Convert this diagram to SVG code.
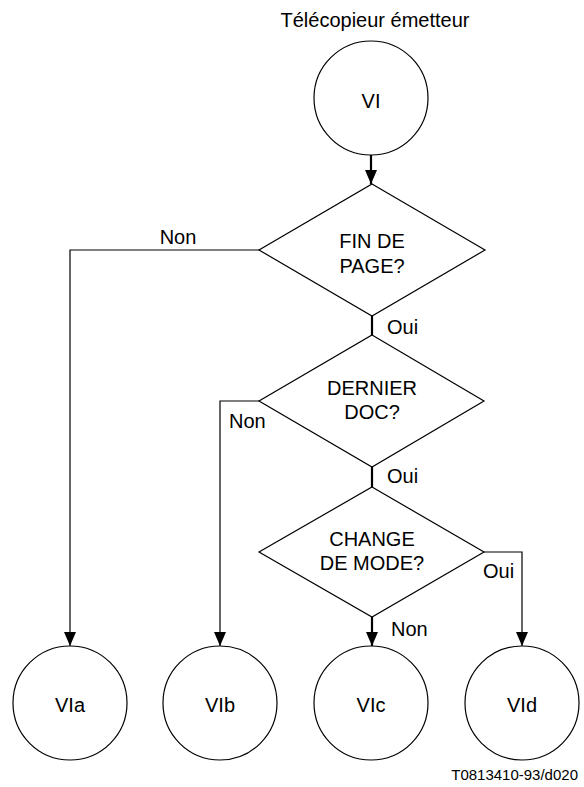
<svg xmlns="http://www.w3.org/2000/svg" width="584" height="787" viewBox="0 0 584 787">
<style>
text{font-family:"Liberation Sans",Arial,sans-serif;font-size:20px;fill:#000}
.c{text-anchor:middle}
.shape{fill:#fff;stroke:#000;stroke-width:1.2}
.ln{fill:none;stroke:#000;stroke-width:1.2}
.thk{fill:none;stroke:#000;stroke-width:2.2}
</style>
<defs>
<marker id="ah" markerUnits="userSpaceOnUse" markerWidth="14" markerHeight="12" refX="14" refY="6" orient="auto" viewBox="0 0 14 12">
<path d="M0,0 L14,6 L0,12 Z" fill="#000"/>
</marker>
</defs>
<text class="c" x="375" y="27">Télécopieur émetteur</text>
<g id="connectors">
<line class="thk" x1="371" y1="155" x2="371" y2="184" marker-end="url(#ah)"/>
<polyline class="ln" points="259,250 70,250 70,646" marker-end="url(#ah)"/>
<line class="thk" x1="372" y1="316" x2="372" y2="335"/>
<polyline class="ln" points="259,401 220,401 220,646" marker-end="url(#ah)"/>
<line class="thk" x1="372" y1="467" x2="372" y2="487"/>
<polyline class="ln" points="484,552 522,552 522,646" marker-end="url(#ah)"/>
<line class="thk" x1="372" y1="617" x2="372" y2="646" marker-end="url(#ah)"/>
<text class="c" x="178" y="244">Non</text>
<text x="387" y="334">Oui</text>
<text x="229" y="428">Non</text>
<text x="387" y="483">Oui</text>
<text x="483" y="578">Oui</text>
<text x="391" y="636">Non</text>
</g>
<g id="VI">
<circle class="shape" cx="371" cy="98" r="57"/>
<text class="c" x="371" y="108">VI</text>
</g>
<g id="d1">
<polygon class="shape" points="372,184 485,250 372,316 259,250"/>
<text class="c" x="372" y="248">FIN DE</text>
<text class="c" x="372" y="273">PAGE?</text>
</g>
<g id="d2">
<polygon class="shape" points="372,335 484,401 372,467 259,401"/>
<text class="c" x="372" y="395">DERNIER</text>
<text class="c" x="372" y="419">DOC?</text>
</g>
<g id="d3">
<polygon class="shape" points="372,487 484,552 372,617 259,552"/>
<text class="c" x="372" y="546">CHANGE</text>
<text class="c" x="372" y="570">DE MODE?</text>
</g>
<g id="VIa">
<circle class="shape" cx="70" cy="703" r="57"/>
<text class="c" x="70" y="712">VIa</text>
</g>
<g id="VIb">
<circle class="shape" cx="220" cy="703" r="57"/>
<text class="c" x="220" y="712">VIb</text>
</g>
<g id="VIc">
<circle class="shape" cx="371" cy="703" r="57"/>
<text class="c" x="371" y="712">VIc</text>
</g>
<g id="VId">
<circle class="shape" cx="522" cy="703" r="57"/>
<text class="c" x="522" y="712">VId</text>
</g>
<text x="578" y="780" style="font-size:15px;text-anchor:end">T0813410-93/d020</text>
</svg>
